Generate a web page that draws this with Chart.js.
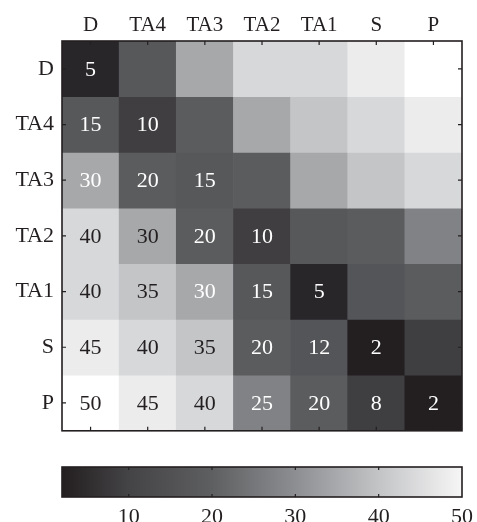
<!DOCTYPE html>
<html><head><meta charset="utf-8">
<script src="https://cdn.jsdelivr.net/npm/chart.js@4.4.1/dist/chart.umd.min.js"></script>
<style>html,body{margin:0;padding:0;background:#fff;overflow:hidden;} canvas{display:block;}</style>
</head><body>
<canvas id="hm" width="477" height="452"></canvas>
<canvas id="cb" width="477" height="70"></canvas>
<script>
// ---------- data ----------
const rowLabels = ['D', 'TA4', 'TA3', 'TA2', 'TA1', 'S', 'P'];
const colLabels = ['D', 'TA4', 'TA3', 'TA2', 'TA1', 'S', 'P'];
const rowD   = [5, 15, 30, 40, 40, 45, 50];
const rowTA4 = [15, 10, 20, 30, 35, 40, 45];
const rowTA3 = [30, 20, 15, 20, 30, 35, 40];
const rowTA2 = [40, 30, 20, 10, 15, 20, 25];
const rowTA1 = [40, 35, 30, 15, 5, 12, 20];
const rowS   = [45, 40, 35, 20, 12, 2, 8];
const rowP   = [50, 45, 40, 25, 20, 8, 2];
const matrix = [rowD, rowTA4, rowTA3, rowTA2, rowTA1, rowS, rowP];
const colorbarTicks = [10, 20, 30, 40, 50];
const colorMin = 2, colorMax = 50;

// ---------- styling ----------
const FONT = "'Liberation Serif', 'DejaVu Serif', serif";
const INK = '#231f20';
const cellStops = [[2,'#231f20'],[5,'#29262a'],[8,'#3f3e41'],[10,'#403e41'],[12,'#545558'],[20,'#5b5c5e'],[25,'#808285'],[30,'#a7a8aa'],[35,'#c4c5c7'],[40,'#d7d8da'],[45,'#ececec'],[50,'#ffffff']];
const barStops = [[2,'#231f20'],[10,'#444345'],[20,'#5e5f61'],[30,'#8d8e91'],[40,'#c3c4c6'],[50,'#f6f6f6']];
// label ink for lower triangle: w = white, k = dark
const labelInk = [
  ['w'],
  ['w','w'],
  ['w','w','w'],
  ['k','k','w','w'],
  ['k','k','w','w','w'],
  ['k','k','k','w','w','w'],
  ['k','k','k','w','w','w','w']
];

function hex2rgb(h){return [parseInt(h.slice(1,3),16),parseInt(h.slice(3,5),16),parseInt(h.slice(5,7),16)];}
function cmap(v){
  for (let k=0;k<cellStops.length-1;k++){
    const [a,ca]=cellStops[k],[b,cb]=cellStops[k+1];
    if (v<=b){
      const t=Math.max(0,(v-a)/(b-a));const A=hex2rgb(ca),B=hex2rgb(cb);
      return 'rgb('+A.map((x,i)=>Math.round(x+(B[i]-x)*t)).join(',')+')';
    }
  }
  return cellStops[cellStops.length-1][1];
}

const framePlugin = {
  id: 'frame',
  afterDraw(chart, args, opts) {
    const {ctx, chartArea: a} = chart;
    const L = opts.len || 4;
    ctx.save();
    ctx.strokeStyle = INK;
    ctx.lineWidth = 1.2;
    ctx.beginPath();
    if (opts.x) {
      const s = chart.scales.x;
      s.ticks.forEach((t, i) => {
        const px = s.getPixelForTick(i);
        if (px > a.right - 2 || px < a.left + 2) return;
        ctx.moveTo(px, a.top); ctx.lineTo(px, a.top + L);
        ctx.moveTo(px, a.bottom); ctx.lineTo(px, a.bottom - L);
      });
    }
    if (opts.y) {
      const s = chart.scales.y;
      s.ticks.forEach((t, i) => {
        const py = s.getPixelForTick(i);
        ctx.moveTo(a.left, py); ctx.lineTo(a.left + L, py);
        ctx.moveTo(a.right, py); ctx.lineTo(a.right - L, py);
      });
    }
    ctx.stroke();
    ctx.lineWidth = 1.6;
    ctx.strokeRect(a.left, a.top, a.right - a.left, a.bottom - a.top);
    ctx.restore();
  }
};

const cellLabels = {
  id: 'cellLabels',
  afterDatasetsDraw(chart) {
    const ctx = chart.ctx;
    ctx.save();
    ctx.font = '22px ' + FONT;
    ctx.textAlign = 'center';
    ctx.textBaseline = 'middle';
    matrix.forEach((row, i) => {
      const meta = chart.getDatasetMeta(i);
      row.forEach((v, j) => {
        if (j > i) return;
        const p = meta.data[j].getCenterPoint();
        ctx.fillStyle = labelInk[i][j] === 'w' ? '#ffffff' : INK;
        ctx.fillText(String(v), p.x, p.y + 1);
      });
    });
    ctx.restore();
  }
};

Chart.register(framePlugin);

new Chart(document.getElementById('hm'), {
  type: 'bar',
  data: {
    labels: colLabels,
    datasets: matrix.map((row, i) => ({
      label: rowLabels[i],
      data: row.map(() => [i - 0.5, i + 0.5]),
      backgroundColor: row.map(v => cmap(v)),
      borderWidth: 0,
      barPercentage: 1,
      categoryPercentage: 1,
      grouped: false
    }))
  },
  options: {
    responsive: false,
    animation: false,
    layout: {padding: {left: 0, right: 15, top: 0, bottom: 11}},
    plugins: {legend: {display: false}, tooltip: {enabled: false}, frame: {x: true, y: true, len: 4}},
    scales: {
      x: {
        type: 'category', position: 'top', offset: true,
        grid: {display: false, drawTicks: false}, border: {display: false},
        ticks: {color: INK, font: {family: FONT, size: 21}, padding: 3, maxRotation: 0},
        afterFit(s) { s.height = 41; s.paddingLeft = 0; s.paddingRight = 0; }
      },
      y: {
        type: 'linear', reverse: true, min: -0.5, max: 6.5,
        grid: {display: false, drawTicks: false}, border: {display: false},
        afterBuildTicks(s) { s.ticks = rowLabels.map((_, i) => ({value: i})); },
        ticks: {color: INK, font: {family: FONT, size: 22}, padding: 8, callback: v => rowLabels[v]},
        afterFit(s) { s.width = 62; }
      }
    }
  },
  plugins: [cellLabels]
});

new Chart(document.getElementById('cb'), {
  type: 'bar',
  data: {
    labels: [''],
    datasets: [{
      data: [[colorMin, colorMax]],
      backgroundColor(c) {
        const chart = c.chart; const xs = chart.scales.x;
        if (!chart.chartArea || !xs) return '#888';
        const x0 = xs.getPixelForValue(colorMin), x1 = xs.getPixelForValue(colorMax);
        const g = chart.ctx.createLinearGradient(x0, 0, x1, 0);
        barStops.forEach(([v, col]) => g.addColorStop((v - colorMin) / (colorMax - colorMin), col));
        return g;
      },
      borderWidth: 0, barPercentage: 1, categoryPercentage: 1
    }]
  },
  options: {
    indexAxis: 'y',
    responsive: false,
    animation: false,
    layout: {padding: {left: 62, right: 15, top: 15, bottom: 0}},
    plugins: {legend: {display: false}, tooltip: {enabled: false}, frame: {x: true, y: false, len: 3}},
    scales: {
      x: {
        type: 'linear', position: 'bottom', min: colorMin, max: colorMax,
        grid: {display: false, drawTicks: false}, border: {display: false},
        afterBuildTicks(s) { s.ticks = colorbarTicks.map(v => ({value: v})); },
        ticks: {color: INK, font: {family: FONT, size: 22}, padding: 7, maxRotation: 0},
        afterFit(s) { s.height = 25; s.paddingLeft = 0; s.paddingRight = 0; }
      },
      y: {type: 'category', display: false}
    }
  }
});
</script>
</body></html>
